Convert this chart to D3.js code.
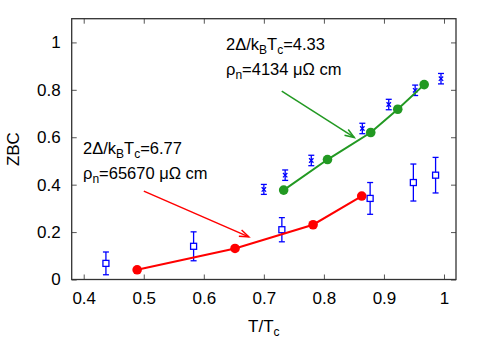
<!DOCTYPE html>
<html>
<head>
<meta charset="utf-8">
<script src="https://cdn.jsdelivr.net/npm/d3@7"></script>
<style>
  html, body { margin: 0; padding: 0; background: #fff; }
  svg { display: block; }
  text { font-family: "Liberation Sans", Arial, Helvetica, sans-serif; fill: #000; }
</style>
</head>
<body>
<svg id="chart" width="491" height="343"></svg>
<script>
// ---- data ----
const redT = [0.489, 0.652, 0.782, 0.863];
const redZ = [0.041, 0.131, 0.231, 0.352];

const greenT = [0.733, 0.806, 0.878, 0.923, 0.967];
const greenZ = [0.377, 0.506, 0.620, 0.718, 0.822];

const sqT = [0.437, 0.583, 0.730, 0.877, 0.949, 0.986];
const sqZ = [0.068, 0.140, 0.210, 0.342, 0.409, 0.440];
const sqErr = [0.048, 0.061, 0.051, 0.067, 0.078, 0.075];

const crT = [0.700, 0.7355, 0.779, 0.864, 0.908, 0.952, 0.995];
const crZ = [0.380, 0.440, 0.502, 0.637, 0.738, 0.798, 0.847];
const crErr = [0.021, 0.022, 0.022, 0.022, 0.022, 0.022, 0.022];

const xTicks = [0.4, 0.5, 0.6, 0.7, 0.8, 0.9, 1];
const xTickLabels = ["0.4", "0.5", "0.6", "0.7", "0.8", "0.9", "1"];
const yTicks = [0, 0.2, 0.4, 0.6, 0.8, 1];
const yTickLabels = ["0", "0.2", "0.4", "0.6", "0.8", "1"];

// annotation arrows [fromT, fromZ, toT, toZ]
const greenArrow = [0.7298, 0.795, 0.8506, 0.599];
const redArrow = [0.5001, 0.373, 0.675, 0.180];

// ---- layout ----
const W = 491, H = 343;
const m = { left: 71.7, right: 35, top: 18.7, bottom: 63.5 };
const svg = d3.select("#chart");
const x = d3.scaleLinear().domain([0.38, 1.02]).range([m.left, W - m.right]);
const y = d3.scaleLinear().domain([0, 1.1]).range([H - m.bottom, m.top]);

const BLUE = "#0000ff", RED = "#ff0000", GREEN = "#229922";
const FS = 17;

// ticks (mirrored, inward)
const tl = 5;
const axB = d3.axisBottom(x).tickValues(xTicks).tickFormat((d, i) => xTickLabels[i]).tickSizeInner(-tl).tickSizeOuter(0).tickPadding(12);
const axT = d3.axisTop(x).tickValues(xTicks).tickFormat("").tickSizeInner(-tl).tickSizeOuter(0);
const axL = d3.axisLeft(y).tickValues(yTicks).tickFormat((d, i) => yTickLabels[i]).tickSizeInner(-tl).tickSizeOuter(0).tickPadding(11);
const axR = d3.axisRight(y).tickValues(yTicks).tickFormat("").tickSizeInner(-tl).tickSizeOuter(0);

function styleAxis(g) {
  g.select(".domain").remove();
  g.selectAll(".tick line").attr("stroke", "#555").attr("stroke-width", 1);
  g.selectAll(".tick text").attr("font-size", FS).attr("font-family", "Liberation Sans, Arial, sans-serif").attr("fill", "#000");
}
svg.append("g").attr("transform", `translate(0,${H - m.bottom})`).call(axB).call(styleAxis);
svg.append("g").attr("transform", `translate(0,${m.top})`).call(axT).call(styleAxis);
svg.append("g").attr("transform", `translate(${m.left},0)`).call(axL).call(styleAxis);
svg.append("g").attr("transform", `translate(${W - m.right},0)`).call(axR).call(styleAxis);

// frame
svg.append("rect")
  .attr("x", m.left).attr("y", m.top)
  .attr("width", W - m.left - m.right).attr("height", H - m.top - m.bottom)
  .attr("fill", "none").attr("stroke", "#333").attr("stroke-width", 1.3);

// axis titles
const xt = svg.append("text").attr("x", (m.left + W - m.right) / 2).attr("y", 332)
  .attr("text-anchor", "middle").attr("font-size", FS);
xt.append("tspan").text("T/T");
xt.append("tspan").attr("font-size", 12).attr("dy", 4).text("c");

svg.append("text").attr("transform", `translate(19,${(m.top + H - m.bottom) / 2}) rotate(-90)`)
  .attr("text-anchor", "middle").attr("font-size", FS).text("ZBC");

// arrows
function arrow(a, color) {
  const x1 = x(a[0]), y1 = y(a[1]), x2 = x(a[2]), y2 = y(a[3]);
  const ang = Math.atan2(y2 - y1, x2 - x1);
  const hl = 10, ha = 0.35;
  svg.append("line").attr("x1", x1).attr("y1", y1).attr("x2", x2).attr("y2", y2)
    .attr("stroke", color).attr("stroke-width", 1.5);
  const p = d3.path();
  p.moveTo(x2 - hl * Math.cos(ang - ha), y2 - hl * Math.sin(ang - ha));
  p.lineTo(x2, y2);
  p.lineTo(x2 - hl * Math.cos(ang + ha), y2 - hl * Math.sin(ang + ha));
  svg.append("path").attr("d", p.toString()).attr("fill", "none").attr("stroke", color).attr("stroke-width", 1.5);
}
arrow(greenArrow, GREEN);
arrow(redArrow, RED);

// annotation text
function gapLabel(px, py, val) {
  const t = svg.append("text").attr("x", px).attr("y", py).attr("font-size", 16.5);
  t.append("tspan").text("2Δ/k");
  t.append("tspan").attr("font-size", 12).attr("dy", 4).text("B");
  t.append("tspan").attr("dy", -4).text("T");
  t.append("tspan").attr("font-size", 12).attr("dy", 4).text("c");
  t.append("tspan").attr("dy", -4).text("=" + val);
}
function rhoLabel(px, py, val) {
  const t = svg.append("text").attr("x", px).attr("y", py).attr("font-size", 16.5);
  t.append("tspan").text("ρ");
  t.append("tspan").attr("font-size", 12).attr("dy", 4).text("n");
  t.append("tspan").attr("dy", -4).text("=" + val + " μΩ cm");
}
gapLabel(226, 50, "4.33");
rhoLabel(226, 75, "4134");
gapLabel(83, 154, "6.77");
rhoLabel(83, 179, "65670");

// blue squares with error bars
const cap = 3;
const sq = svg.append("g").attr("stroke", BLUE).attr("stroke-width", 1.3).attr("fill", "none");
sqT.forEach((t, i) => {
  const cx = x(t), cy = y(sqZ[i]), y1 = y(sqZ[i] + sqErr[i]), y2 = y(sqZ[i] - sqErr[i]);
  sq.append("line").attr("x1", cx).attr("x2", cx).attr("y1", y1).attr("y2", y2);
  sq.append("line").attr("x1", cx - cap).attr("x2", cx + cap).attr("y1", y1).attr("y2", y1);
  sq.append("line").attr("x1", cx - cap).attr("x2", cx + cap).attr("y1", y2).attr("y2", y2);
  sq.append("rect").attr("x", cx - 3).attr("y", cy - 3).attr("width", 6).attr("height", 6).attr("fill", "#fff");
});

// blue crosses with error bars
const cr = svg.append("g").attr("stroke", BLUE).attr("stroke-width", 1.3).attr("fill", "none");
crT.forEach((t, i) => {
  const cx = x(t), cy = y(crZ[i]), y1 = y(crZ[i] + crErr[i]), y2 = y(crZ[i] - crErr[i]);
  cr.append("line").attr("x1", cx).attr("x2", cx).attr("y1", y1).attr("y2", y2);
  cr.append("line").attr("x1", cx - cap).attr("x2", cx + cap).attr("y1", y1).attr("y2", y1);
  cr.append("line").attr("x1", cx - cap).attr("x2", cx + cap).attr("y1", y2).attr("y2", y2);
  cr.append("path").attr("d", `M${cx - 2.2},${cy - 2.2}L${cx + 2.2},${cy + 2.2}M${cx - 2.2},${cy + 2.2}L${cx + 2.2},${cy - 2.2}`);
});

// lines with circles
const line = d3.line().x(d => x(d[0])).y(d => y(d[1]));
function series(T, Z, color) {
  const pts = T.map((t, i) => [t, Z[i]]);
  svg.append("path").attr("d", line(pts)).attr("fill", "none").attr("stroke", color).attr("stroke-width", 2);
  svg.append("g").selectAll("circle").data(pts).join("circle")
    .attr("cx", d => x(d[0])).attr("cy", d => y(d[1])).attr("r", 4.8).attr("fill", color);
}
series(redT, redZ, RED);
series(greenT, greenZ, GREEN);
</script>
</body>
</html>
